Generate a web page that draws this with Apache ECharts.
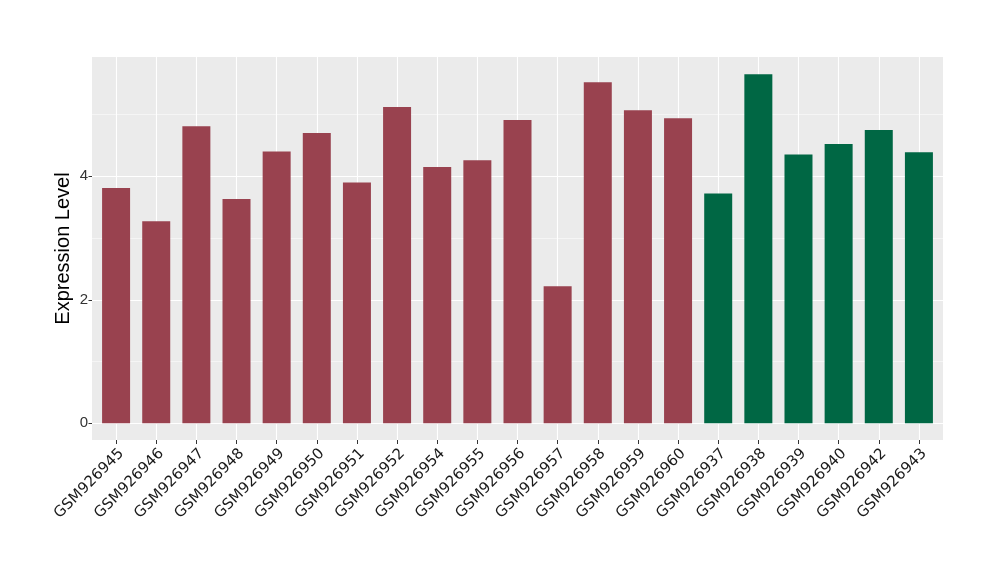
<!DOCTYPE html>
<html>
<head>
<meta charset="utf-8">
<script src="https://cdn.jsdelivr.net/npm/echarts@6/dist/echarts.min.js"></script>
<style>html,body{margin:0;padding:0;background:#fff;}#c{width:1000px;height:580px;}</style>
</head>
<body>
<div id="c"></div>
<script>
const categories = ['GSM926945','GSM926946','GSM926947','GSM926948','GSM926949','GSM926950','GSM926951','GSM926952','GSM926954','GSM926955','GSM926956','GSM926957','GSM926958','GSM926959','GSM926960','GSM926937','GSM926938','GSM926939','GSM926940','GSM926942','GSM926943'];
const values = [3.81,3.27,4.81,3.63,4.40,4.70,3.90,5.12,4.15,4.26,4.91,2.22,5.52,5.07,4.94,3.72,5.65,4.35,4.52,4.75,4.39];
const groups = ['A','A','A','A','A','A','A','A','A','A','A','A','A','A','A','B','B','B','B','B','B'];
const groupColors = {A:'#99424F', B:'#006744'};
const yTicks = [0,2,4];
const yMinorGrid = [1,3,5];
const yTitle = 'Expression Level';

const xIdx = categories.map((c,i)=>i);
const chart = echarts.init(document.getElementById('c'));
chart.setOption({
  animation:false,
  grid:{left:92,right:57,top:57,bottom:140,show:true,backgroundColor:'#EBEBEB',borderWidth:0,containLabel:false},
  xAxis:{
    type:'value', min:-0.6, max:20.6,
    axisLine:{show:false, onZero:false},
    axisTick:{show:true, customValues:xIdx, length:4, lineStyle:{color:'#333',width:1}},
    axisLabel:{customValues:xIdx, rotate:45, margin:6, align:'right', verticalAlign:'top', fontFamily:'DejaVu Sans', fontSize:15, color:'#1a1a1a',
      formatter:v=>categories[Math.round(v)]},
    splitLine:{show:true, lineStyle:{color:'#FFFFFF', width:1.1}}
  },
  yAxis:[{
    type:'value', min:-0.27, max:5.93,
    name:yTitle, nameLocation:'middle', nameGap:19, nameMoveOverlap:false,
    nameTextStyle:{fontFamily:'Liberation Sans', fontSize:20, color:'#000'},
    axisLine:{show:false, onZero:false},
    axisTick:{show:true, customValues:yTicks, length:3.5, lineStyle:{color:'#333',width:1}},
    axisLabel:{customValues:yTicks, margin:4, fontFamily:'Liberation Sans', fontSize:15, color:'#333'},
    splitLine:{show:true, lineStyle:{color:'#FFFFFF', width:1.1}}
  },{
    type:'value', min:-0.27, max:5.93, position:'left',
    axisLine:{show:false, onZero:false},
    axisTick:{show:false, customValues:yMinorGrid},
    axisLabel:{show:false, customValues:yMinorGrid},
    splitLine:{show:true, lineStyle:{color:'#FFFFFF', width:0.5}}
  }],
  series:[{
    type:'bar',
    barWidth:28,
    data: values.map((v,i)=>({value:[i,v], itemStyle:{color:groupColors[groups[i]]}})),
    z:3
  }]
});
</script>
</body>
</html>
